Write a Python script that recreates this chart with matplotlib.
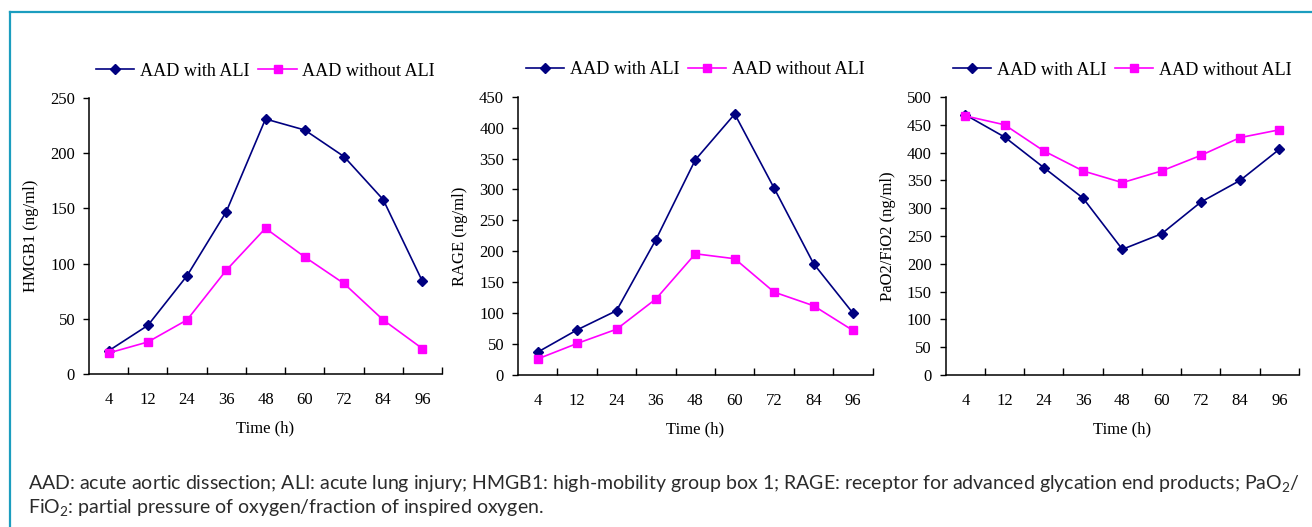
import matplotlib
matplotlib.use("Agg")
import matplotlib.pyplot as plt
from matplotlib.lines import Line2D

times = ["4", "12", "24", "36", "48", "60", "72", "84", "96"]
series_names = ["AAD with ALI", "AAD without ALI"]

hmgb1_with = [21, 44, 89, 147, 231, 221, 197, 158, 84]
hmgb1_without = [19, 29, 49, 94, 132, 106, 82, 49, 23]

rage_with = [37, 73, 104, 219, 348, 422, 302, 180, 100]
rage_without = [26, 51, 74, 123, 196, 188, 134, 112, 72]

pf_with = [468, 428, 373, 318, 226, 254, 311, 350, 406]
pf_without = [466, 450, 403, 367, 346, 367, 395, 427, 441]

ylabels = ["HMGB1 (ng/ml)", "RAGE (ng/ml)", "PaO2/FiO2 (ng/ml)"]
yticks = [list(range(0, 251, 50)), list(range(0, 451, 50)), list(range(0, 501, 50))]

W, H = 1312, 527
fig = plt.figure(figsize=(W / 100, H / 100), dpi=100)
fig.patch.set_facecolor("white")

serif = ["Liberation Serif", "DejaVu Serif"]
navy = "#000080"
magenta = "#FF00FF"

# axes boxes in pixels: left, top, right, bottom
boxes = [(89, 98, 442, 374), (518, 96.7, 872.7, 375), (945.7, 97, 1299, 375)]
data = [(hmgb1_with, hmgb1_without), (rage_with, rage_without), (pf_with, pf_without)]

for (l, t, r, b), (dw, dwo), yl, yt in zip(boxes, data, ylabels, yticks):
    ax = fig.add_axes([l / W, 1 - b / H, (r - l) / W, (b - t) / H])
    x = list(range(len(times)))
    ax.plot(x, dw, color=navy, marker="D", markersize=5.5, lw=1.2, label=series_names[0])
    ax.plot(x, dwo, color=magenta, marker="s", markersize=6, lw=1.2, label=series_names[1])
    ax.set_xlim(-0.5, len(times) - 0.5)
    ax.set_ylim(yt[0], yt[-1])
    ax.set_yticks(yt)
    ax.set_yticklabels([str(v) for v in yt], fontfamily=serif, fontsize=12)
    ax.set_xticks(x)
    ax.set_xticklabels(times, fontfamily=serif, fontsize=12)
    ax.tick_params(axis="x", which="major", length=0, pad=13)
    ax.set_xticks([i + 0.5 for i in x], minor=True)
    ax.tick_params(axis="x", which="minor", direction="in", length=5, width=1)
    ax.tick_params(axis="y", direction="out", length=4, width=1, pad=6)
    for s in ["top", "right"]:
        ax.spines[s].set_visible(False)
    for s in ["left", "bottom"]:
        ax.spines[s].set_linewidth(1.1)
    ax.set_facecolor("none")
    ax.set_ylabel(yl, fontfamily=serif, fontsize=12, labelpad=8)
    ax.set_xlabel("Time (h)", fontfamily=serif, fontsize=12, labelpad=9)
    ax.legend(loc="lower center", bbox_to_anchor=(0.5, 1.04), ncol=2, frameon=False,
              prop={"family": serif, "size": 13.05}, handlelength=2.1, handletextpad=0.3,
              columnspacing=0.5, borderaxespad=0)

# border lines (teal)
teal = "#1b9dbf"
fig.add_artist(Line2D([10 / W, 10 / W], [0, 1 - 12 / H], color=teal, lw=1.6, transform=fig.transFigure))
fig.add_artist(Line2D([10 / W, 1], [1 - 12 / H, 1 - 12 / H], color=teal, lw=1.6, transform=fig.transFigure))

plt.rcParams["mathtext.fontset"] = "custom"
plt.rcParams["mathtext.rm"] = "Lato"
plt.rcParams["mathtext.it"] = "Lato"
cap_font = ["Lato", "DejaVu Sans"]
cap1 = ("AAD: acute aortic dissection; ALI: acute lung injury; HMGB1: high-mobility group box 1; "
        "RAGE: receptor for advanced glycation end products; PaO$_2$/")
cap2 = "FiO$_2$: partial pressure of oxygen/fraction of inspired oxygen."
fig.text(28 / W, 1 - 484 / H, cap1, fontfamily=cap_font, fontsize=14.0, color="#2b2b2b", va="center", ha="left")
fig.text(28 / W, 1 - 508 / H, cap2, fontfamily=cap_font, fontsize=14.0, color="#2b2b2b", va="center", ha="left")

fig.savefig("out.png", dpi=100)
